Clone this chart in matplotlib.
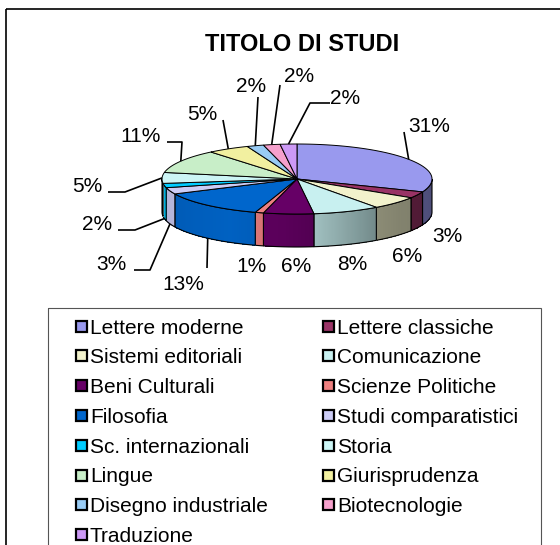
import numpy as np
import matplotlib
matplotlib.use("Agg")
import matplotlib.pyplot as plt
from matplotlib.patches import Polygon, Rectangle
from matplotlib.collections import PolyCollection
from matplotlib.colors import to_rgb

plt.rcParams["font.family"] = ["Liberation Sans", "DejaVu Sans"]

# ── Data ─────────────────────────────────────────────────────────────────────
TITLE = "TITOLO DI STUDI"
CATEGORIES = [
    "Lettere moderne", "Lettere classiche", "Sistemi editoriali", "Comunicazione",
    "Beni Culturali", "Scienze Politiche", "Filosofia", "Studi comparatistici",
    "Sc. internazionali", "Storia", "Lingue", "Giurisprudenza",
    "Disegno industriale", "Biotecnologie", "Traduzione",
]
PERCENT = [31, 3, 6, 8, 6, 1, 13, 3, 2, 5, 11, 5, 2, 2, 2]
COLORS = [
    "#9999ee", "#993366", "#f2f2cc", "#c8f0f0", "#660066", "#ee8080",
    "#0066cc", "#ccccf5", "#00ccff", "#ccf5f5", "#c8eec8", "#f2f0a0",
    "#99ccf5", "#f5a0cc", "#cc99f5",
]

# ── Layout (pixel space) ─────────────────────────────────────────────────────
W, H = 560, 545
CX, CY, RX, RY, DEPTH = 297, 179, 135, 35, 33
LABEL_XY = [(429, 125), (447, 234), (407, 254), (352, 262), (296, 264),
            (252, 264), (183, 282), (111, 263), (97, 222), (87, 185),
            (141, 134), (202, 112), (251, 84), (299, 75), (345, 97)]
LEADER = [[(404, 132)], None, None, None, None,
          None, [(207, 268)], [(150, 270), (134, 270)], [(135, 230), (118, 230)],
          [(125, 192), (108, 192)], [(182, 142), (167, 142)], [(223, 120)],
          [(258, 97)], [(280, 85)], [(310, 103), (330, 103)]]
SHADE_T = [-180, -150, -120, -95, -85, -55, -40, 0]
SHADE_F = [0.85, 0.9, 0.95, 0.88, 0.82, 0.58, 0.54, 0.5]

fig = plt.figure(figsize=(W / 100, H / 100), dpi=100)
ax = fig.add_axes([0, 0, 1, 1])
ax.set_xlim(0, W)
ax.set_ylim(H, 0)
ax.axis("off")

vals = np.array(PERCENT, float)
frac = np.concatenate([[0], np.cumsum(vals) / vals.sum()])
ang = 90 - 360 * frac  # clockwise from 12 o'clock


def rim(theta):
    t = np.radians(theta)
    return CX + RX * np.cos(t), CY - RY * np.sin(t)


# frame + legend box
ax.add_patch(Rectangle((6, 9), 700, 700, fill=False, edgecolor="black", lw=1.2))
ax.add_patch(Rectangle((48, 308), 493, 400, fill=False, edgecolor="#555555", lw=0.8))

# side walls (front half only), shaded strip by strip
for i, c in enumerate(COLORS):
    lo, hi = max(ang[i + 1], -180), min(ang[i], 0)
    if hi <= lo:
        continue
    ts = np.linspace(lo, hi, max(int((hi - lo) * 2), 2))
    rgb = np.array(to_rgb(c))
    strips, fcs = [], []
    for a, b in zip(ts[:-1], ts[1:]):
        x0, y0 = rim(a)
        x1, y1 = rim(min(b + 0.4, hi))
        strips.append([(x0, y0), (x1, y1), (x1, y1 + DEPTH), (x0, y0 + DEPTH)])
        fcs.append(rgb * np.interp((a + b) / 2, SHADE_T, SHADE_F))
    ax.add_collection(PolyCollection(strips, facecolors=fcs, edgecolors="none",
                                     antialiased=False))
    x, y = rim(ts)
    outline = list(zip(x, y)) + list(zip(x[::-1], y[::-1] + DEPTH))
    ax.add_patch(Polygon(outline, closed=True, fill=False, edgecolor="black", lw=0.8))

# top faces
for i, c in enumerate(COLORS):
    ts = np.linspace(ang[i], ang[i + 1], max(int(abs(ang[i] - ang[i + 1]) * 2), 2))
    x, y = rim(ts)
    ax.add_patch(Polygon([(CX, CY)] + list(zip(x, y)), closed=True,
                         facecolor=c, edgecolor="black", lw=0.7))

# percentage labels + leader lines
pct = np.round(100 * vals / vals.sum()).astype(int)
for i, (p, (tx, ty)) in enumerate(zip(pct, LABEL_XY)):
    ax.text(tx, ty, f"{p}%", ha="center", va="center_baseline", fontsize=15)
    if LEADER[i]:
        mid = (ang[i] + ang[i + 1]) / 2
        sx, sy = rim(mid)
        if np.sin(np.radians(mid)) < -0.1:
            sy += DEPTH
        pts = [(sx, sy)] + LEADER[i]
        ax.plot(*zip(*pts), color="black", lw=1.2, solid_capstyle="butt")

ax.text(302, 42, TITLE, ha="center", va="center_baseline", fontsize=17, fontweight="bold")

# legend (row-major, two columns)
for k, (name, c) in enumerate(zip(CATEGORIES, COLORS)):
    row, col = divmod(k, 2)
    mx, my = 76 + col * 247, 326 + row * 29.8
    ax.add_patch(Rectangle((mx, my - 5.5), 11, 11, facecolor=c, edgecolor="black", lw=1.6))
    ax.text(mx + 14, my, name, ha="left", va="center_baseline", fontsize=15)

fig.savefig("out.png", dpi=100)
